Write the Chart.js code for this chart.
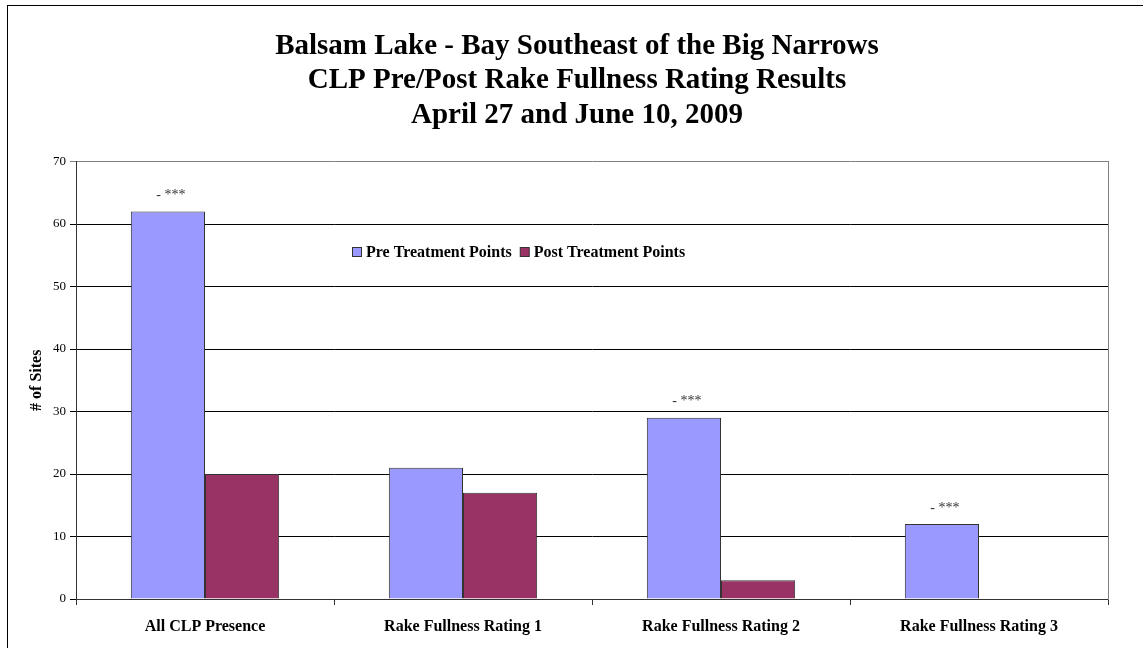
<!DOCTYPE html>
<html>
<head>
<meta charset="utf-8">
<script src="https://cdn.jsdelivr.net/npm/chart.js@4/dist/chart.umd.min.js"></script>
<style>
  html, body { margin: 0; padding: 0; background: #fff; overflow: hidden; }
  #wrap { position: relative; width: 1143px; height: 648px; }
  #frame { position: absolute; left: 7px; top: 5px; width: 1200px; height: 700px; border: 1px solid #000; box-sizing: border-box; pointer-events: none; }
</style>
</head>
<body>
<div id="wrap">
  <canvas id="chart" width="1143" height="648"></canvas>
  <div id="frame"></div>
</div>
<script>
// chart data
const categories = ['All CLP Presence', 'Rake Fullness Rating 1', 'Rake Fullness Rating 2', 'Rake Fullness Rating 3'];
const preValues = [62, 21, 29, 12];
const postValues = [20, 17, 3, 0];
const preNotes = ['- ***', '', '- ***', '- ***'];
const yTicks = [0, 10, 20, 30, 40, 50, 60, 70];
const titleLines = [
  'Balsam Lake - Bay Southeast of the Big Narrows',
  'CLP Pre/Post Rake Fullness Rating Results',
  'April 27 and June 10, 2009',
];

const SERIF = '"Liberation Serif", "Times New Roman", serif';

// "- ***" notes above the pre-treatment bars
const notesPlugin = {
  id: 'notes',
  afterDatasetsDraw(chart) {
    const ctx = chart.ctx;
    const meta = chart.getDatasetMeta(0);
    ctx.save();
    ctx.font = '14px ' + SERIF;
    ctx.fillStyle = '#333';
    ctx.textAlign = 'center';
    ctx.textBaseline = 'middle';
    meta.data.forEach((bar, i) => {
      if (preNotes[i]) ctx.fillText(preNotes[i], bar.x + 3, bar.y - 16);
    });
    ctx.restore();
  },
};

// legend drawn inside the plot
const boxLegend = {
  id: 'boxLegend',
  afterDraw(chart) {
    const ctx = chart.ctx;
    ctx.save();
    ctx.font = 'bold 16px ' + SERIF;
    ctx.textBaseline = 'middle';
    ctx.textAlign = 'left';
    ctx.lineWidth = 1;
    let x = 352;
    const y = 252;
    chart.data.datasets.forEach((ds) => {
      ctx.fillStyle = ds.backgroundColor;
      ctx.fillRect(x + 0.5, y - 4.5, 9, 9);
      ctx.strokeStyle = '#333';
      ctx.strokeRect(x + 0.5, y - 4.5, 9, 9);
      ctx.fillStyle = '#000';
      ctx.fillText(ds.label, x + 14, y + 1);
      x += 14 + ctx.measureText(ds.label).width + 8;
    });
    ctx.restore();
  },
};

new Chart(document.getElementById('chart'), {
  type: 'bar',
  data: {
    labels: categories,
    datasets: [
      { label: 'Pre Treatment Points', data: preValues, backgroundColor: '#9999FF', borderColor: '#333', borderWidth: 1 },
      { label: 'Post Treatment Points', data: postValues, backgroundColor: '#993366', borderColor: '#333', borderWidth: 1 },
    ],
  },
  options: {
    responsive: false,
    animation: false,
    layout: { padding: { left: 27, right: 16, top: 0, bottom: 0 } },
    datasets: { bar: { categoryPercentage: 0.575, barPercentage: 1 } },
    plugins: {
      legend: { display: false },
      tooltip: { enabled: false },
      title: {
        display: true,
        text: titleLines,
        color: '#000',
        font: { family: SERIF, size: 29, weight: 'bold', lineHeight: 1.19 },
        padding: { top: 29, bottom: 29 },
      },
    },
    scales: {
      x: {
        grid: { offset: true, drawOnChartArea: false, color: '#333', tickLength: 6 },
        border: { color: '#333' },
        ticks: { color: '#000', font: { family: SERIF, size: 16, weight: 'bold' }, padding: 12 },
        afterFit(scale) { scale.height = 49; },
      },
      y: {
        min: 0,
        max: 70,
        afterBuildTicks(scale) { scale.ticks = yTicks.map((v) => ({ value: v })); },
        grid: {
          color: (c) => (c.tick && c.tick.value === 70 ? '#808080' : '#000'),
          tickLength: 6,
        },
        border: { color: '#333' },
        ticks: { color: '#000', font: { family: SERIF, size: 13 }, padding: 4 },
        title: {
          display: true,
          text: '# of Sites',
          color: '#000',
          font: { family: SERIF, size: 16, weight: 'bold' },
          padding: { top: 0, bottom: 0 },
        },
        afterFit(scale) { scale.width = 49; },
      },
      // empty right axis: only the grey right edge of the plot
      yRight: {
        position: 'right',
        min: 0,
        max: 70,
        grid: { display: false },
        ticks: { display: false },
        border: { color: '#808080' },
        afterFit(scale) { scale.width = 19; },
      },
    },
  },
  plugins: [notesPlugin, boxLegend],
});
</script>
</body>
</html>
